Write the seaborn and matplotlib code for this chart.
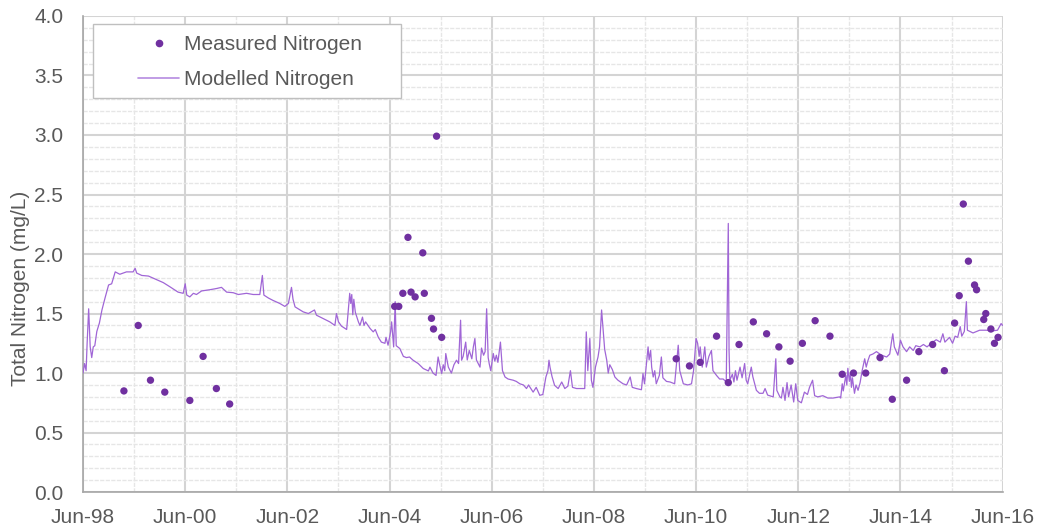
import matplotlib
matplotlib.use("Agg")
import matplotlib.pyplot as plt
import matplotlib.dates as mdates
from matplotlib.ticker import MultipleLocator
from matplotlib.lines import Line2D
from matplotlib.patches import Rectangle
import numpy as np
import pandas as pd
import seaborn as sns

# years after 1 Jun 1998 and total nitrogen (mg/L)
model_t = [0.00, 0.03, 0.06, 0.08, 0.11, 0.14, 0.17, 0.20, 0.23, 0.27, 0.32, 0.37, 0.43, 0.50, 0.56, 0.63,
           0.72, 0.85, 0.98, 1.02, 1.05, 1.15, 1.28, 1.41, 1.57, 1.70, 1.86, 1.96, 2.00, 2.03, 2.09, 2.16,
           2.22, 2.32, 2.48, 2.61, 2.71, 2.81, 2.94, 3.04, 3.20, 3.33, 3.46, 3.51, 3.54, 3.63, 3.72, 3.85,
           3.95, 4.02, 4.08, 4.11, 4.15, 4.25, 4.31, 4.41, 4.53, 4.57, 4.70, 4.83, 4.93, 4.96, 5.00, 5.06,
           5.16, 5.22, 5.24, 5.26, 5.28, 5.30, 5.33, 5.39, 5.42, 5.47, 5.50, 5.53, 5.62, 5.68, 5.72, 5.78,
           5.84, 5.91, 5.93, 5.97, 6.02, 6.04, 6.08, 6.11, 6.13, 6.20, 6.27, 6.33, 6.39, 6.46, 6.56, 6.66,
           6.76, 6.79, 6.85, 6.91, 6.95, 6.98, 7.02, 7.05, 7.08, 7.10, 7.15, 7.21, 7.26, 7.31, 7.35, 7.39,
           7.41, 7.44, 7.49, 7.52, 7.56, 7.61, 7.64, 7.67, 7.70, 7.77, 7.80, 7.84, 7.87, 7.90, 7.93, 7.95,
           7.98, 8.03, 8.06, 8.09, 8.12, 8.17, 8.21, 8.26, 8.32, 8.42, 8.48, 8.55, 8.62, 8.68, 8.72, 8.81,
           8.87, 8.94, 9.00, 9.06, 9.10, 9.12, 9.14, 9.18, 9.23, 9.30, 9.37, 9.43, 9.49, 9.54, 9.58, 9.66,
           9.75, 9.82, 9.85, 9.88, 9.92, 9.95, 9.98, 10.03, 10.08, 10.11, 10.15, 10.18, 10.21, 10.25, 10.28,
           10.31, 10.36, 10.41, 10.47, 10.57, 10.64, 10.71, 10.75, 10.83, 10.93, 10.96, 10.99, 11.06, 11.08,
           11.11, 11.13, 11.16, 11.19, 11.22, 11.28, 11.32, 11.35, 11.42, 11.49, 11.58, 11.65, 11.68, 11.75,
           11.84, 11.91, 11.95, 12.00, 12.03, 12.06, 12.08, 12.12, 12.17, 12.20, 12.25, 12.30, 12.33, 12.40,
           12.46, 12.53, 12.59, 12.63, 12.645, 12.66, 12.71, 12.74, 12.77, 12.80, 12.86, 12.90, 12.95, 12.98,
           13.01, 13.08, 13.11, 13.18, 13.24, 13.31, 13.35, 13.40, 13.51, 13.56, 13.58, 13.64, 13.67, 13.70,
           13.74, 13.78, 13.81, 13.86, 13.91, 13.95, 13.99, 14.06, 14.12, 14.18, 14.22, 14.28, 14.32, 14.38,
           14.48, 14.58, 14.68, 14.81, 14.83, 14.86, 14.88, 14.93, 14.95, 14.97, 15.00, 15.02, 15.04, 15.06,
           15.10, 15.13, 15.17, 15.21, 15.25, 15.30, 15.33, 15.36, 15.40, 15.46, 15.53, 15.63, 15.73, 15.79,
           15.82, 15.85, 15.88, 15.95, 16.00, 16.05, 16.12, 16.18, 16.25, 16.30, 16.38, 16.45, 16.52, 16.60,
           16.70, 16.78, 16.83, 16.87, 16.96, 17.02, 17.07, 17.12, 17.17, 17.20, 17.25, 17.29, 17.31, 17.42,
           17.55, 17.68, 17.81, 17.90, 17.97, 18.00]
model_v = [1.00, 1.08, 1.02, 1.25, 1.54, 1.22, 1.13, 1.22, 1.23, 1.35, 1.42, 1.53, 1.63, 1.74, 1.75, 1.85,
           1.83, 1.85, 1.85, 1.88, 1.84, 1.82, 1.815, 1.79, 1.76, 1.725, 1.68, 1.67, 1.75, 1.655, 1.64, 1.67,
           1.66, 1.69, 1.70, 1.71, 1.72, 1.68, 1.675, 1.66, 1.67, 1.66, 1.66, 1.82, 1.655, 1.63, 1.61, 1.585,
           1.56, 1.585, 1.72, 1.62, 1.556, 1.53, 1.514, 1.50, 1.53, 1.486, 1.458, 1.43, 1.40, 1.50, 1.43, 1.394,
           1.366, 1.67, 1.585, 1.66, 1.49, 1.62, 1.51, 1.43, 1.40, 1.47, 1.40, 1.43, 1.374, 1.346, 1.366, 1.30,
           1.26, 1.25, 1.30, 1.234, 1.346, 1.43, 1.22, 1.60, 1.23, 1.206, 1.14, 1.13, 1.135, 1.108, 1.08, 1.038,
           1.018, 1.05, 1.00, 0.98, 1.135, 1.07, 0.996, 1.07, 1.02, 1.164, 1.05, 1.00, 1.07, 1.108, 1.08, 1.444,
           1.108, 1.14, 1.26, 1.11, 1.19, 1.12, 1.22, 1.29, 1.11, 1.05, 1.21, 1.15, 1.18, 1.54, 1.13, 1.08,
           1.02, 1.164, 1.10, 1.15, 1.09, 1.26, 1.02, 0.967, 0.95, 0.94, 0.93, 0.91, 0.90, 0.87, 0.90, 0.84,
           0.88, 0.813, 0.82, 0.967, 1.02, 1.108, 1.05, 0.97, 0.897, 0.87, 0.925, 0.87, 0.89, 1.02, 0.88, 0.87,
           0.87, 0.87, 1.346, 1.02, 1.29, 0.94, 0.88, 1.05, 1.135, 1.22, 1.53, 1.37, 1.20, 1.11, 1.00,
           1.07, 1.03, 0.967, 0.94, 0.91, 0.90, 0.967, 0.88, 0.87, 0.86, 0.996, 0.91, 1.22, 1.11,
           1.19, 1.05, 0.967, 1.02, 0.91, 0.98, 1.135, 0.96, 0.93, 0.925, 0.91, 1.234, 1.02, 0.91,
           0.90, 0.91, 1.02, 1.29, 1.25, 1.14, 1.22, 1.05, 1.22, 1.05, 1.14, 1.19, 1.02, 0.98,
           0.95, 0.95, 0.925, 2.257, 1.19, 0.94, 0.99, 0.925, 1.02, 0.94, 1.05, 0.96, 1.08, 0.94,
           0.91, 1.05, 0.97, 0.855, 0.83, 0.83, 0.87, 0.815, 0.80, 1.12, 0.855, 0.80, 0.79, 0.88,
           0.77, 0.92, 0.80, 0.90, 0.757, 0.91, 0.77, 0.75, 0.84, 0.82, 0.88, 0.94, 0.81, 0.80,
           0.81, 0.79, 0.79, 0.80, 0.79, 0.91, 0.85, 0.98, 0.90, 1.04, 0.93, 1.00, 0.88, 0.96,
           0.83, 0.90, 0.855, 0.92, 1.02, 1.12, 1.05, 1.10, 1.15, 1.16, 1.18, 1.15, 1.135, 1.16,
           1.25, 1.33, 1.22, 1.15, 1.276, 1.22, 1.18, 1.22, 1.19, 1.23, 1.22, 1.24, 1.22, 1.25,
           1.28, 1.26, 1.33, 1.26, 1.30, 1.25, 1.31, 1.30, 1.39, 1.31, 1.35, 1.60, 1.36, 1.337,
           1.36, 1.36, 1.355, 1.36, 1.416, 1.40]

meas_t = [0.80, 1.08, 1.32, 1.60, 2.09, 2.35, 2.61, 2.87,
          6.10, 6.18, 6.26, 6.36, 6.42, 6.50, 6.65, 6.68, 6.82, 6.86, 6.92, 7.02,
          11.61, 11.87, 12.08, 12.40, 12.63, 12.84, 13.12, 13.38, 13.62, 13.84, 14.08, 14.33,
          14.62, 14.86, 15.08, 15.32, 15.60, 15.84, 16.12, 16.36, 16.63, 16.86, 17.06, 17.15,
          17.23, 17.33, 17.45, 17.49, 17.63, 17.67, 17.77, 17.84, 17.91]
meas_v = [0.85, 1.40, 0.94, 0.84, 0.77, 1.14, 0.87, 0.74,
          1.56, 1.56, 1.67, 2.14, 1.68, 1.64, 2.01, 1.67, 1.46, 1.37, 2.99, 1.30,
          1.12, 1.06, 1.09, 1.31, 0.92, 1.24, 1.43, 1.33, 1.22, 1.10, 1.25, 1.44,
          1.31, 0.99, 1.00, 1.00, 1.13, 0.78, 0.94, 1.18, 1.24, 1.02, 1.42, 1.65,
          2.42, 1.94, 1.74, 1.70, 1.45, 1.50, 1.37, 1.25, 1.30]

start = pd.Timestamp("1998-06-01")


def to_dates(years):
    return start + pd.to_timedelta(np.array(years) * 365.25, unit="D")


model = pd.DataFrame({"date": to_dates(model_t), "tn": model_v})
meas = pd.DataFrame({"date": to_dates(meas_t), "tn": meas_v})

sns.set_theme(style="white")
plt.rcParams["font.family"] = ["Liberation Sans", "DejaVu Sans"]

line_col = "#A066D6"
dot_col = "#7030A0"
txt_col = "#595959"
grid_col = "#D4D4D4"
fs = 15

fig = plt.figure(figsize=(10.38, 5.32), dpi=100)
ax = fig.add_axes([0.080, 0.075, 0.886, 0.895])

sns.lineplot(data=model, x="date", y="tn", ax=ax, color=line_col, linewidth=0.9, zorder=3)
sns.scatterplot(data=meas, x="date", y="tn", ax=ax, color=dot_col, s=28, edgecolor="none", zorder=4)

ax.set_xlim(pd.Timestamp("1998-06-01"), pd.Timestamp("2016-06-01"))
ax.set_ylim(0, 4.0)
ax.xaxis.set_major_locator(mdates.YearLocator(2, month=6, day=1))
ax.xaxis.set_minor_locator(mdates.YearLocator(1, month=6, day=1))
ax.xaxis.set_major_formatter(mdates.DateFormatter("%b-%y"))
ax.yaxis.set_major_locator(MultipleLocator(0.5))
ax.yaxis.set_minor_locator(MultipleLocator(0.1))
ax.yaxis.set_major_formatter(plt.FormatStrFormatter("%.1f"))

ax.grid(which="major", color=grid_col, linewidth=1.5, zorder=0)
ax.grid(which="minor", color="#E6E6E6", linewidth=1.0, linestyle=(0, (3, 1)), zorder=0)
ax.set_axisbelow(True)

for s in ["top", "right"]:
    ax.spines[s].set_visible(False)
for s in ["left", "bottom"]:
    ax.spines[s].set_color("#A6A6A6")
    ax.spines[s].set_linewidth(1.2)

ax.tick_params(which="both", direction="out", color="#A6A6A6", labelcolor=txt_col,
               labelsize=fs, length=4.3, width=1)
ax.tick_params(axis="y", which="major", pad=10)
ax.tick_params(axis="x", which="major", pad=7)

ax.set_xlabel("")
ax.set_ylabel("Total Nitrogen (mg/L)", color=txt_col, fontsize=fs)
ax.yaxis.set_label_coords(-0.058, 0.427)

# legend: Excel-style box drawn separately so the padding can differ by side
ax.add_patch(Rectangle((0.0112, 0.828), 0.3345, 0.1543, transform=ax.transAxes,
                       facecolor="white", edgecolor="#BFBFBF", linewidth=1.0, zorder=5))
handles = [
    Line2D([], [], marker="o", linestyle="none", color=dot_col, markersize=4.5),
    Line2D([], [], color="#B58BE0", linewidth=1.2),
]
leg = ax.legend(handles, ["Measured Nitrogen", "Modelled Nitrogen"], loc="upper left",
                bbox_to_anchor=(0.0595, 0.960), borderaxespad=0, borderpad=0, frameon=False,
                fontsize=fs, handlelength=2.0, handletextpad=0.23, labelspacing=0.79)
leg.set_zorder(6)
for t in leg.get_texts():
    t.set_color(txt_col)

fig.savefig("out.png", dpi=100)
